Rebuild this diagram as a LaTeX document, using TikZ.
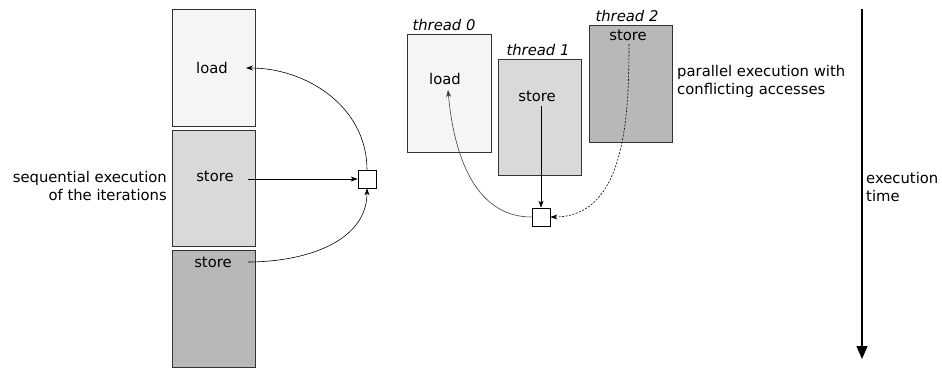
\documentclass[tikz,border=0pt]{standalone}
\usepackage{fontspec}
\setmainfont{DejaVu Sans}
\usetikzlibrary{arrows.meta}
\begin{document}
\begin{tikzpicture}[x=1pt,y=-1pt,
  every node/.style={font=\fontsize{14.8}{18}\selectfont},
  blk/.style={draw=black!80,line width=0.8pt,minimum width=83pt,anchor=north west,inner sep=0pt},
  sq/.style={draw=black,line width=0.7pt,fill=white,minimum size=18pt,inner sep=0pt},
  lbl/.style={inner sep=0pt},
  conn/.style={line width=0.6pt,-{Stealth[length=7pt,width=5pt]}},
]
\useasboundingbox (0,0) rectangle (942,383);
% left column
\node[blk,fill=black!4,minimum height=117pt] (b1) at (172,9) {};
\node[blk,fill=black!15,minimum height=116pt] (b2) at (172,130) {};
\node[blk,fill=black!28,minimum height=117pt] (b3) at (172,250) {};
\node[lbl] (l1) at (212,68) {load};
\node[lbl] (s2) at (215,176) {store};
\node[lbl] (s3) at (213,262) {store};
\node[sq] (q1) at (367,179) {};
\node[lbl,align=right,anchor=east] (seq) at (167,186) {sequential execution\\of the iterations};
\coordinate (s2o) at (248,179);
\coordinate (s3o) at (248,262);
\coordinate (l1i) at (246,68);
\draw[conn] (s2o) -- (q1.west);
\draw[conn] (s3o) to[out=0,in=-90] (q1.south);
\draw[conn] (q1.north) to[out=90,in=0] (l1i);
% threads
\node[blk,fill=black!4,minimum width=84pt,minimum height=118pt] (t0) at (407,34) {};
\node[blk,fill=black!15,minimum height=116pt] (t1) at (498,59) {};
\node[blk,fill=black!28,minimum height=117pt] (t2) at (589,25) {};
\node[lbl,anchor=south] (h0) at (444,31) {\itshape thread 0};
\node[lbl,anchor=south] (h1) at (538,56) {\itshape thread 1};
\node[lbl,anchor=south] (h2) at (627,22) {\itshape thread 2};
\node[lbl] (l0) at (445,79) {load};
\node[lbl] (st1) at (537,96) {store};
\node[lbl] (st2) at (628,35) {store};
\node[sq] (q2) at (541,217) {};
\coordinate (st1o) at (541,106);
\coordinate (st2o) at (629,44);
\coordinate (l0i) at (448,90);
\draw[conn] (st1o) -- (q2.north);
\draw[conn,dashed,dash pattern=on 2pt off 1.5pt] (st2o) to[out=-90,in=0] (q2.east);
\draw[conn,draw=black!75] (q2.west) to[out=180,in=-85] (l0i);
\node[lbl,align=left,anchor=west] (par) at (677,81) {parallel execution with\\conflicting accesses};
% time arrow
\coordinate (ta) at (862,9);
\coordinate (tb) at (862,359);
\draw[line width=1.3pt,-{Triangle[length=13pt,width=11pt]}] (ta) -- (tb);
\node[lbl,align=left,anchor=west] (et) at (866,187) {execution\\time};
\end{tikzpicture}
\end{document}
